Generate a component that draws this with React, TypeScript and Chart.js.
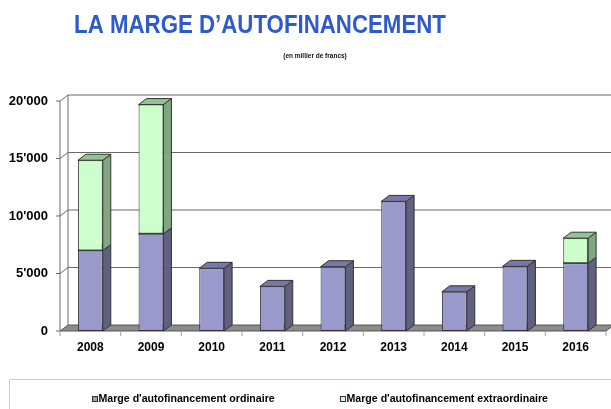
import React, { useEffect, useRef } from 'react';
import { Chart, registerables } from 'chart.js';

Chart.register(...registerables);

// ---- data ----
const years = ['2008', '2009', '2010', '2011', '2012', '2013', '2014', '2015', '2016'];
const ordinaire = [6990, 8450, 5450, 3880, 5590, 11270, 3410, 5620, 5890];
const extraordinaire = [7860, 11240, 0, 0, 0, 0, 0, 0, 2180];
const yTickValues = [0, 5000, 10000, 15000, 20000];
const seriesLabels = ["Marge d'autofinancement ordinaire", "Marge d'autofinancement extraordinaire"];
const titleText = 'LA MARGE D\u2019AUTOFINANCEMENT';
const subtitleText = '(en millier de francs)';

// ---- styles ----
const FONT = "'Liberation Sans', Arial, Helvetica, sans-serif";
const OUTLINE = '#333333';
const GRID = '#6a6a6a';
const DX = 8;
const DY = 6;
const COLORS = [
  { front: '#9999cc', side: '#606080', top: '#7777aa' },
  { front: '#ccffcc', side: '#80a880', top: '#93c293' },
];

const fmt = (v: number) => String(v).replace(/\B(?=(\d{3})+(?!\d))/g, "'");

function poly(ctx: CanvasRenderingContext2D, pts: number[][], fill: string | null, stroke: string | null) {
  ctx.beginPath();
  ctx.moveTo(pts[0][0], pts[0][1]);
  for (let i = 1; i < pts.length; i++) ctx.lineTo(pts[i][0], pts[i][1]);
  ctx.closePath();
  if (fill) {
    ctx.fillStyle = fill;
    ctx.fill();
  }
  if (stroke) {
    ctx.strokeStyle = stroke;
    ctx.lineWidth = 1;
    ctx.stroke();
  }
}

const threeD = {
  id: 'threeD',
  beforeDatasetsDraw(chart: any) {
    const ctx: CanvasRenderingContext2D = chart.ctx;
    const ca = chart.chartArea;
    const ys = chart.scales.y;
    const xs = chart.scales.x;
    ctx.save();
    const y0 = ys.getPixelForValue(0);
    const yMax = ys.getPixelForValue(ys.max);

    // floor
    poly(
      ctx,
      [
        [ca.left, y0],
        [ca.left + DX, y0 - DY],
        [ca.right + DX, y0 - DY],
        [ca.right, y0],
      ],
      '#8c8c8c',
      '#555555'
    );

    // gridlines on left & back walls, tick marks
    ctx.strokeStyle = GRID;
    ctx.lineWidth = 1;
    yTickValues.forEach((v) => {
      const yy = ys.getPixelForValue(v);
      ctx.beginPath();
      ctx.moveTo(ca.left - 4, yy);
      ctx.lineTo(ca.left, yy);
      if (v > 0) {
        ctx.lineTo(ca.left + DX, yy - DY);
        ctx.lineTo(ca.right + DX + 20, yy - DY);
      }
      ctx.stroke();
    });
    // wall verticals
    ctx.beginPath();
    ctx.moveTo(ca.left, y0);
    ctx.lineTo(ca.left, yMax);
    ctx.moveTo(ca.left + DX, y0 - DY);
    ctx.lineTo(ca.left + DX, yMax - DY);
    ctx.stroke();

    // category tick marks below the floor
    ctx.strokeStyle = '#a0a0a0';
    for (let i = 0; i <= years.length; i++) {
      const x = xs.getPixelForValue(i - 0.5);
      ctx.beginPath();
      ctx.moveTo(x, y0);
      ctx.lineTo(x, y0 + 5);
      ctx.stroke();
    }

    // side and top faces of bars
    chart.data.datasets.forEach((ds: any, di: number) => {
      const meta = chart.getDatasetMeta(di);
      meta.data.forEach((el: any, i: number) => {
        if (!ds.data[i]) return;
        const p = el.getProps(['x', 'y', 'base', 'width'], true);
        const L = p.x - p.width / 2;
        const R = p.x + p.width / 2;
        const T = Math.min(p.y, p.base);
        const B = Math.max(p.y, p.base);
        poly(
          ctx,
          [
            [R, T],
            [R + DX, T - DY],
            [R + DX, B - DY],
            [R, B],
          ],
          COLORS[di].side,
          OUTLINE
        );
        poly(
          ctx,
          [
            [L, T],
            [L + DX, T - DY],
            [R + DX, T - DY],
            [R, T],
          ],
          COLORS[di].top,
          OUTLINE
        );
      });
    });
    ctx.restore();
  },
};

const decor = {
  id: 'decor',
  afterDraw(chart: any) {
    const ctx: CanvasRenderingContext2D = chart.ctx;
    ctx.save();
    // title (condensed)
    const sx = 0.84;
    ctx.fillStyle = '#2d5bcc';
    ctx.font = `bold 26.5px ${FONT}`;
    ctx.textAlign = 'center';
    ctx.textBaseline = 'alphabetic';
    ctx.save();
    ctx.scale(sx, 1);
    ctx.fillText(titleText, 260 / sx, 33);
    ctx.restore();

    // subtitle
    ctx.fillStyle = '#111';
    ctx.font = `bold 6.5px ${FONT}`;
    ctx.textBaseline = 'middle';
    ctx.fillText(subtitleText, 315, 56);

    // legend frame
    ctx.strokeStyle = '#cccccc';
    ctx.lineWidth = 1;
    ctx.beginPath();
    ctx.moveTo(9.5, 420);
    ctx.lineTo(9.5, 379.5);
    ctx.lineTo(640, 379.5);
    ctx.stroke();

    // legend items
    const starts = [92, 340];
    ctx.font = `bold 10.6px ${FONT}`;
    ctx.textAlign = 'left';
    ctx.textBaseline = 'middle';
    seriesLabels.forEach((lab, i) => {
      const x = starts[i];
      ctx.fillStyle = COLORS[i].front;
      ctx.fillRect(x, 396.5, 5, 5);
      ctx.strokeStyle = OUTLINE;
      ctx.strokeRect(x + 0.5, 396.5, 5, 5);
      ctx.fillStyle = '#000';
      ctx.fillText(lab, x + 6.5, 399.5);
    });
    ctx.restore();
  },
};

export default function App() {
  const ref = useRef<HTMLCanvasElement>(null);
  useEffect(() => {
    document.body.style.margin = '0';
    const canvas = ref.current!;
    const chart = new Chart(canvas, {
      type: 'bar',
      data: {
        labels: years,
        datasets: [ordinaire, extraordinaire].map((d, i) => ({
          label: seriesLabels[i],
          data: d,
          backgroundColor: COLORS[i].front,
          borderColor: OUTLINE,
          borderWidth: (c: any) => (c.raw ? 1 : 0),
          borderSkipped: false,
          barPercentage: 0.41,
          categoryPercentage: 1,
        })),
      },
      options: {
        responsive: false,
        animation: false,
        devicePixelRatio: 1,
        layout: { padding: { top: 101, right: 5, left: 0, bottom: 0 } },
        plugins: {
          legend: { display: false },
          title: { display: false },
          tooltip: { enabled: false },
        },
        scales: {
          x: {
            stacked: true,
            grid: { display: false, drawTicks: false },
            border: { display: false },
            ticks: { color: '#000', font: { family: FONT, size: 12, weight: 'bold' }, padding: 9 },
            afterFit: (s: any) => {
              s.height = 78;
            },
          },
          y: {
            stacked: true,
            min: 0,
            max: 20000,
            grid: { display: false, drawTicks: false },
            border: { display: false },
            afterBuildTicks: (s: any) => {
              s.ticks = yTickValues.map((v) => ({ value: v }));
            },
            ticks: {
              color: '#000',
              font: { family: FONT, size: 13, weight: 'bold' },
              padding: 12,
              callback: (v: any) => fmt(Number(v)),
            },
            afterFit: (s: any) => {
              s.width = 60;
            },
          },
        },
      } as any,
      plugins: [threeD, decor],
    });
    return () => chart.destroy();
  }, []);
  return <canvas ref={ref} width={611} height={409} style={{ display: 'block' }} />;
}
